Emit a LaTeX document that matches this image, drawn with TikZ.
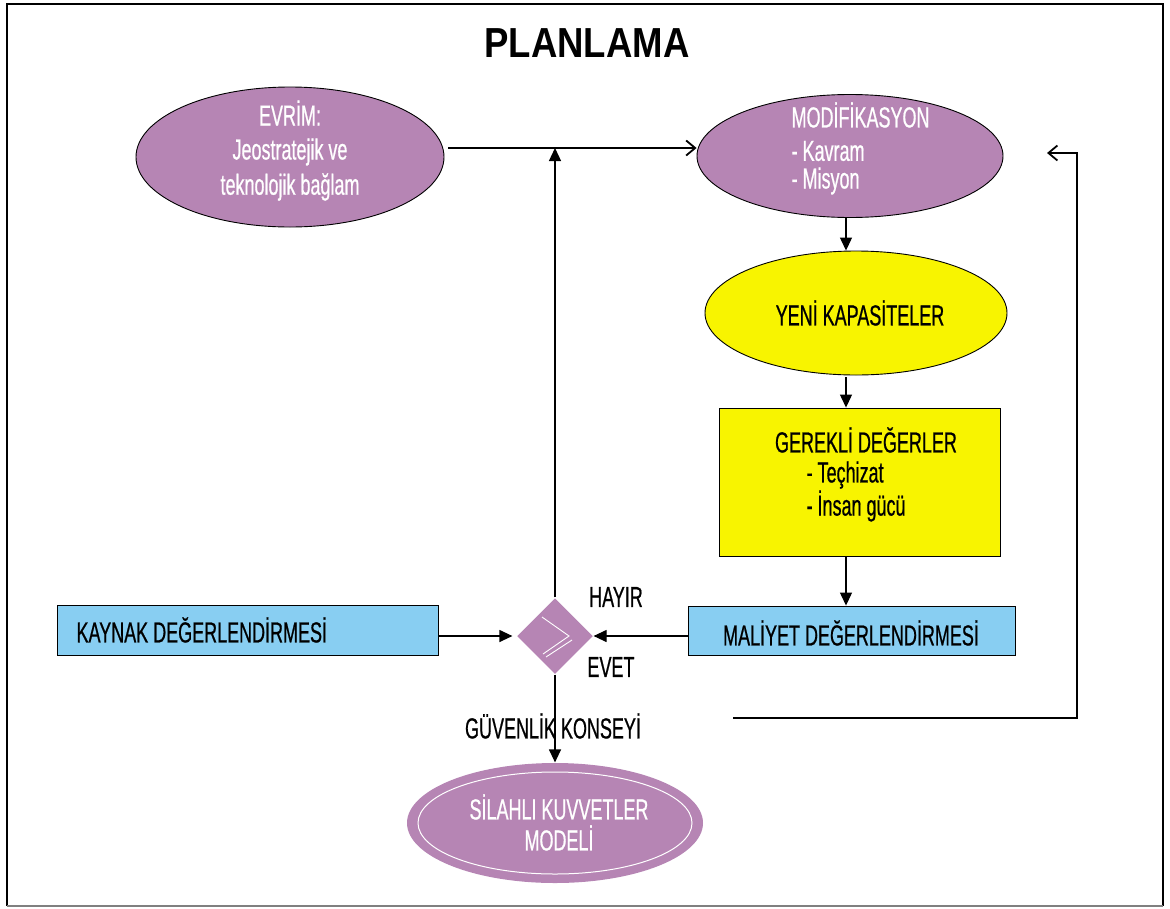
\documentclass[tikz,border=0pt]{standalone}
\usepackage{fontspec}
\setmainfont{Liberation Sans}[FakeStretch=0.62,FakeBold=0.6]
\newfontfamily\titlefont{Liberation Sans}[FakeStretch=0.87]
\usetikzlibrary{arrows.meta,shapes.geometric}
\definecolor{lila}{HTML}{B685B4}
\definecolor{gelb}{HTML}{F8F400}
\definecolor{hblau}{HTML}{88CEF2}
\tikzset{
  ell/.style={ellipse, draw=black, line width=0.9pt, inner sep=0pt},
  box/.style={rectangle, draw=black, line width=0.9pt, inner sep=0pt},
  wt/.style={text=white, inner sep=0pt},
  bt/.style={text=black, inner sep=0pt},
  arr/.style={-{Triangle[length=13pt,width=12pt]}},
  openarr/.style={-{Straight Barb[length=9pt,width=15pt,line width=1.8pt]}}
}
\begin{document}
\begin{tikzpicture}[x=1pt,y=-1pt,line width=1.2pt,font=\fontsize{29}{33}\selectfont]
\useasboundingbox (0,0) rectangle (1170,908);
% frame
\draw[line width=2.5pt] (7,906) -- (7,4) -- (1163,4) -- (1163,906);
\draw[gray, line width=1.5pt] (7,906) -- (1163,906);
% title
\node[inner sep=0pt] (title) at (587,43) {\titlefont\bfseries\fontsize{42}{46}\selectfont PLANLAMA};
% shapes
\node[ell, fill=lila, minimum width=308, minimum height=140] (evrim) at (290,157) {};
\node[ell, fill=lila, minimum width=306, minimum height=123] (modif) at (850,156) {};
\node[ell, fill=gelb, minimum width=302, minimum height=124] (yeni) at (856,313) {};
\node[box, fill=gelb, minimum width=281, minimum height=148] (gerekli) at (859.5,482) {};
\node[box, fill=hblau, minimum width=327, minimum height=49] (maliyet) at (851.5,630.5) {};
\node[box, fill=hblau, minimum width=381, minimum height=50] (kaynak) at (247.5,630) {};
\node[diamond, fill=lila, minimum width=76, minimum height=76, inner sep=0pt] (karar) at (555,636) {};
\node[ellipse, fill=lila, minimum width=296, minimum height=120, inner sep=0pt] (model) at (555,823) {};
\draw[white, line width=1pt] (model.center) ellipse [x radius=137, y radius=51];
% chevron in diamond
\draw[white, line width=0.9pt] (542,617) -- (569,636) -- (543,654);
\draw[white, line width=0.9pt] (546,657) -- (572,640);
% texts
\node[wt] (e1) at (290,113) {EVRİM:};
\node[wt] (e2) at (290,152) {Jeostratejik ve};
\node[wt] (e3) at (290,187) {teknolojik bağlam};
\node[wt, anchor=west] (m1) at (791,115) {MODİFİKASYON};
\node[wt, anchor=west] (m2) at (791,151) {- Kavram};
\node[wt, anchor=west] (m3) at (791,181) {- Misyon};
\node[bt] (y1) at (860,313) {YENİ KAPASİTELER};
\node[bt] (g1) at (866,440) {GEREKLİ DEĞERLER};
\node[bt, anchor=west] (g2) at (806,475) {- Teçhizat};
\node[bt, anchor=west] (g3) at (806,506) {- İnsan gücü};
\node[bt] (ml) at (851,633) {MALİYET DEĞERLENDİRMESİ};
\node[bt, anchor=west] (kl) at (76,630) {KAYNAK DEĞERLENDİRMESİ};
\node[wt] (s1) at (559,807) {SİLAHLI KUVVETLER};
\node[wt] (s2) at (559,838) {MODELİ};
\node[bt] (hayir) at (616,597) {HAYIR};
\node[bt] (evet) at (611,667) {EVET};
\node[bt] (gk) at (553,726) {GÜVENLİK KONSEYİ};
% connectors
\coordinate (mid) at (555,148);
\coordinate (gx) at (846,0);
\coordinate (fb0) at (733,718);
\coordinate (fb1) at (1047,153);
\draw[openarr, shorten <=4pt] (evrim.east |- mid) -- (modif.west |- mid);
\draw[arr] (karar.north) -- (karar.north |- mid);
\draw[arr] (modif.south -| gx) -- (yeni.north -| gx);
\draw[arr] (yeni.south -| gx) ++(0,2) -- (gerekli.north -| gx);
\draw[arr] (gerekli.south -| gx) -- (maliyet.north -| gx);
\draw[arr] (maliyet.west |- karar.east) -- (karar.east);
\draw[arr, shorten >=4pt] (kaynak.east |- karar.west) -- (karar.west);
\draw[arr] (karar.south) -- (karar.south |- model.north);
\draw[openarr] (fb0) -- (1077,718) -- (1077,153) -- (fb1);
\end{tikzpicture}
\end{document}
